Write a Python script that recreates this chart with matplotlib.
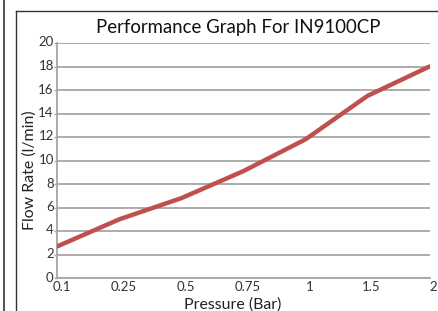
import matplotlib
matplotlib.use("Agg")
import matplotlib.pyplot as plt
import matplotlib.transforms as mtransforms
from matplotlib.lines import Line2D

pressure_labels = ["0.1", "0.25", "0.5", "0.75", "1", "1.5", "2"]
flow_rate = [2.7, 5.0, 6.8, 9.1, 11.8, 15.5, 18.0]
y_ticks = list(range(0, 21, 2))

W, H = 439, 311
fig = plt.figure(figsize=(W / 100, H / 100), dpi=100)
fig.patch.set_facecolor("white")

# outer frame lines
fig.add_artist(Line2D([4.5 / W, 4.5 / W], [0, 1], color="#333333", lw=1.2, transform=fig.transFigure))
fig.add_artist(Line2D([16 / W, 16 / W], [0, 1 - 10.5 / H], color="#333333", lw=1.0, transform=fig.transFigure))
fig.add_artist(Line2D([16 / W, 1], [1 - 10.5 / H, 1 - 10.5 / H], color="#333333", lw=1.0, transform=fig.transFigure))

left, right, top, bottom = 57.5, 429.5, 43, 278
ax = fig.add_axes([left / W, 1 - bottom / H, (right - left) / W, (bottom - top) / H])

x = list(range(len(pressure_labels)))
ax.plot(x, flow_rate, color="#c0504d", lw=3.2, solid_capstyle="round", solid_joinstyle="round", zorder=3)

ax.set_xlim(0, len(pressure_labels) - 1)
ax.set_ylim(0, 20)
ax.set_xticks(x)
ax.set_xticklabels(pressure_labels)
ax.set_yticks(y_ticks)
ax.yaxis.grid(True, color="#a6a6a6", lw=1.3)
ax.set_axisbelow(True)

for s in ["top", "right"]:
    ax.spines[s].set_visible(False)
for s in ["left", "bottom"]:
    ax.spines[s].set_color("#a6a6a6")
    ax.spines[s].set_linewidth(1.3)

font = "Lato"
ax.tick_params(axis="y", length=2.2, width=1, color="#a6a6a6", pad=0.5, labelsize=9.5, labelcolor="#333333")
ax.tick_params(axis="x", length=0, pad=2, labelsize=9.5, labelcolor="#333333")
xoff = mtransforms.ScaledTranslation(4 / 100, 0, fig.dpi_scale_trans)
yoff = mtransforms.ScaledTranslation(0, 1.5 / 100, fig.dpi_scale_trans)
for lab in ax.get_xticklabels():
    lab.set_fontfamily(font)
    lab.set_transform(lab.get_transform() + xoff)
for lab in ax.get_yticklabels():
    lab.set_fontfamily(font)
    lab.set_transform(lab.get_transform() + yoff)

fig.text(232.5 / W, 1 - 305 / H, "Pressure (Bar)", ha="center", va="center",
         fontsize=11.4, family=font, color="#222222")
fig.text(30 / W, 1 - 170 / H, "Flow Rate (l/min)", ha="center", va="center", rotation=90,
         fontsize=11.4, family=font, color="#222222")

fig.text(238 / W, 1 - 28 / H, "Performance Graph For IN9100CP", ha="center", va="center",
         fontsize=13.4, family=font, color="#111111")

fig.savefig("out.png", dpi=100)
